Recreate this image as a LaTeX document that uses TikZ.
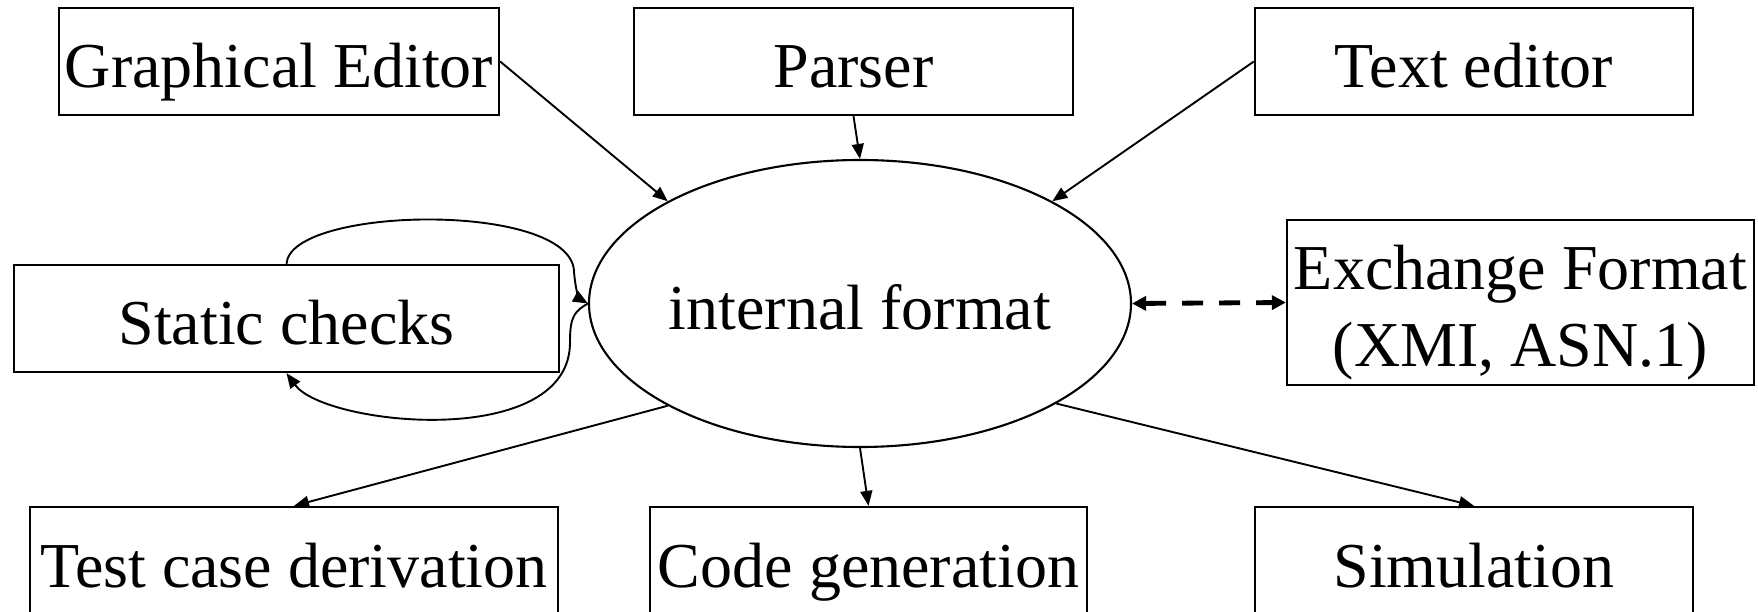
\documentclass[tikz,border=0pt]{standalone}
\usepackage{fontspec}
\setmainfont{Liberation Serif}
\usetikzlibrary{arrows.meta,shapes.geometric}
\begin{document}
\begin{tikzpicture}[x=1pt,y=1pt,
  lbl/.style={font=\fontsize{64}{77}\selectfont, text height=53pt, text depth=0pt, inner sep=0pt},
  box/.style={lbl, draw, line width=2.3pt, minimum height=107pt},
  oval/.style={lbl, ellipse, draw, line width=2.1pt, minimum width=542pt, minimum height=287pt},
  txtline/.style={font=\fontsize{64}{77}\selectfont, inner sep=0pt, anchor=base},
  flow/.style={line width=1.9pt, -{Triangle[length=15pt,width=12pt]}},
  xchg/.style={line width=4.8pt, dash pattern=on 21pt off 16pt,
    {Triangle[length=14pt,width=14pt]}-{Triangle[length=14pt,width=14pt]}}]
\clip (0,0) rectangle (1758,611);

% front ends
\node[box, minimum width=440pt] (ge) at (279,549.5) {Graphical Editor};
\node[box, minimum width=439pt] (parser) at (853.5,549.5) {Parser};
\node[box, minimum width=438pt] (te) at (1474,549.5) {Text editor};

% central representation
\node[oval] (ie) at (860,307.5) {internal format};

% side boxes
\node[box, minimum width=545pt] (sc) at (286.5,292.5) {Static checks};
\node[box, minimum width=467pt, minimum height=165pt] (xf) at (1520.5,308.5) {};
\node[txtline] (xf1) at ([yshift=12.5pt]xf.center) {Exchange Format};
\node[txtline] (xf2) at ([yshift=-64.5pt]xf.center) {(XMI, ASN.1)};

% back ends
\node[box, minimum width=528pt] (tc) at (294,50.5) {Test case derivation};
\node[box, minimum width=437pt] (cg) at (868.5,50.5) {Code generation};
\node[box, minimum width=438pt] (sim) at (1474,50.5) {Simulation};

% inputs
\draw[flow] (ge.east) -- (ie.152);
\draw[flow] (parser.south) -- (ie.north);
\draw[flow] (te.west) -- (ie.28);

% outputs
\draw[flow] (ie.208) -- (tc.north);
\draw[flow] (ie.south) -- (cg.north);
\draw[flow] (ie.333) -- (sim.north);

% checking loop
\draw[flow] (sc.north) .. controls (290,405) and (570,410) .. (574,340)
  .. controls (575,322) and (580,312) .. (ie.west);
\draw[flow] (ie.west) .. controls (575,300) and (570,295) .. (570,270)
  .. controls (572,160) and (325,185) .. (sc.south);

% exchange
\draw[xchg] (ie.east) -- (xf.west);
\end{tikzpicture}
\end{document}
